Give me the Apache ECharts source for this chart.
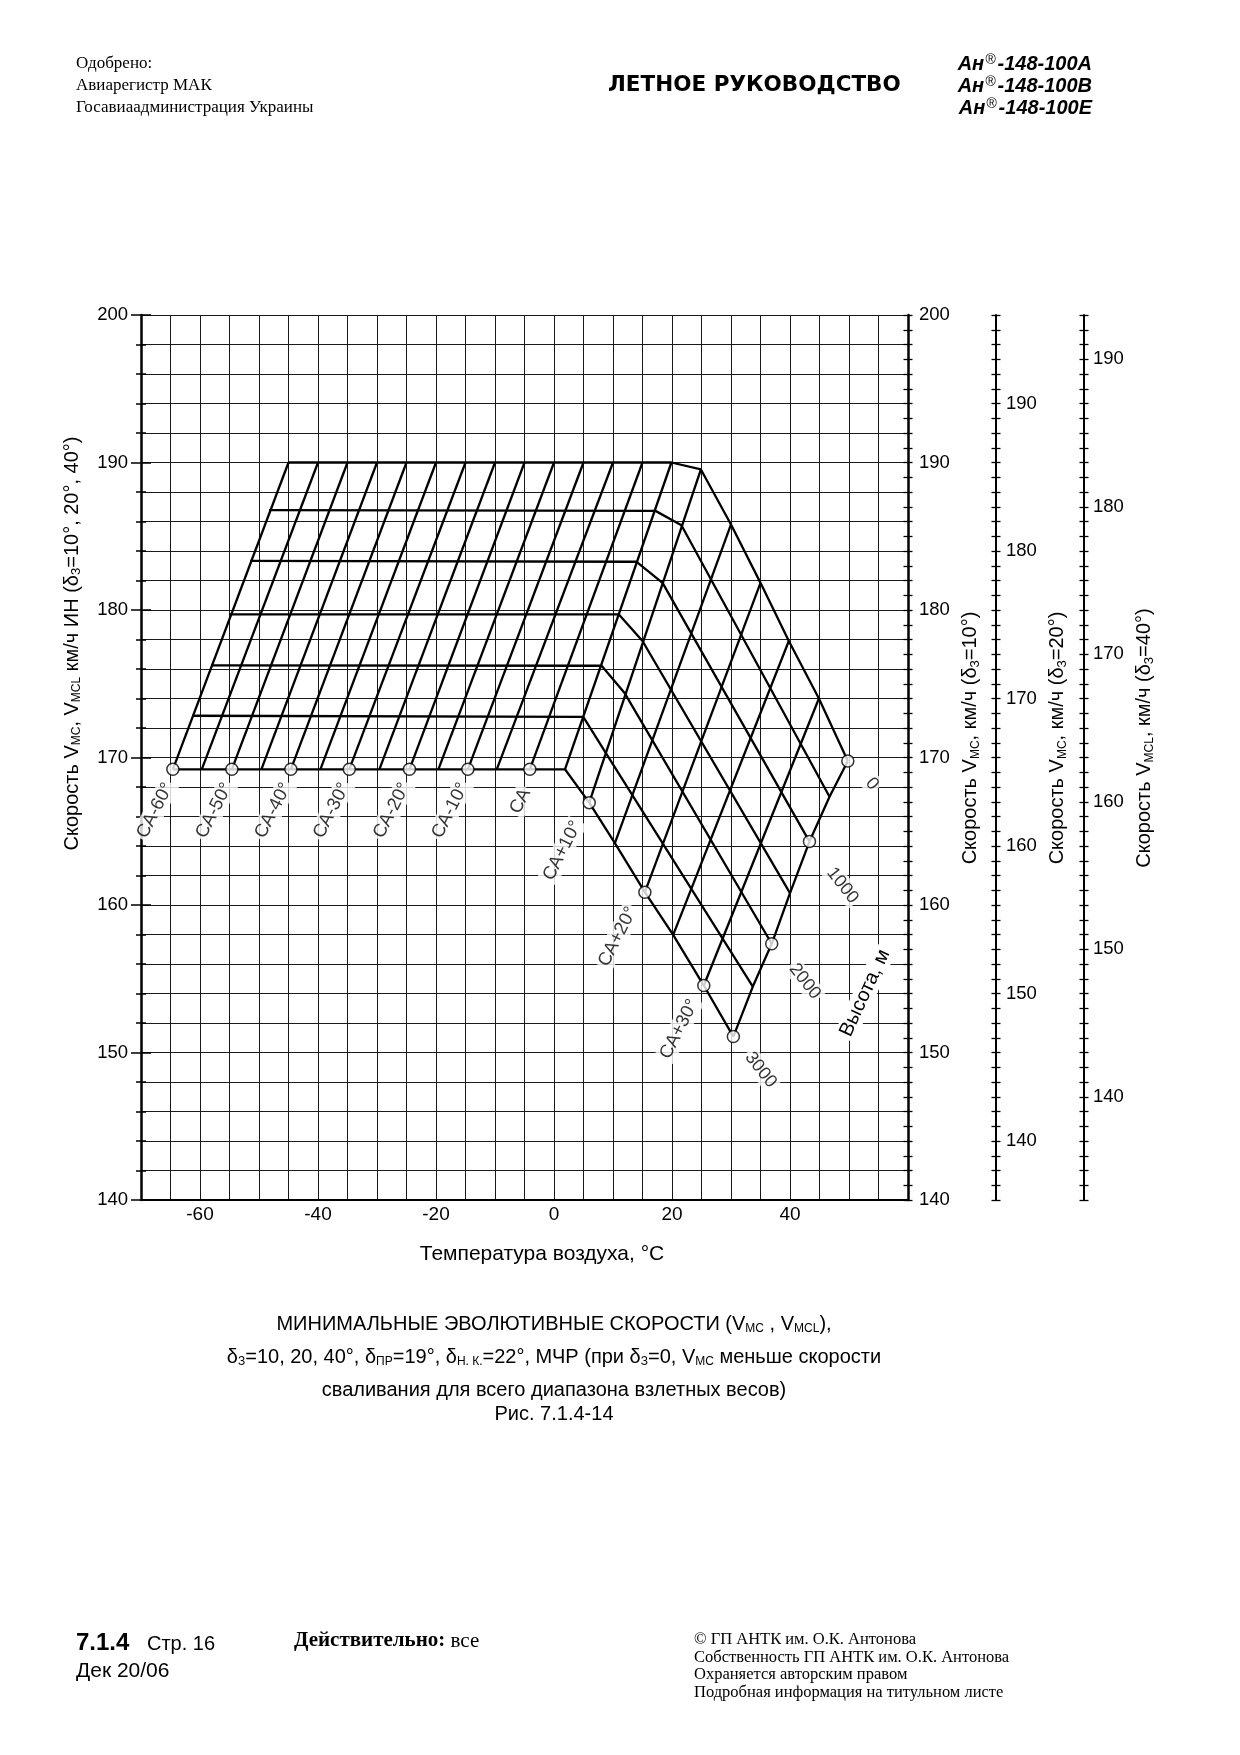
<!DOCTYPE html>
<html><head><meta charset="utf-8">
<script src="https://cdn.jsdelivr.net/npm/echarts@6/dist/echarts.min.js"></script>
<style>html,body{margin:0;padding:0;background:#fff}#c{width:1240px;height:1755px}</style>
</head><body><div id="c"></div>
<script>
// ---------------- DATA ----------------
// Altitude lines (speed vs temperature), one array per altitude, metres
const ALTITUDE_M = [0, 500, 1000, 1500, 2000, 2500, 3000];
const ALT_0    = [[-45,190],[19.9,190],[24.9,189.53],[30,185.8],[35,181.84],[39.8,177.9],[44.9,174.0],[49.8,169.76]];
const ALT_500  = [[-48.3,186.77],[17.2,186.72],[21.6,185.75],[46.7,167.34]];
const ALT_1000 = [[-51.5,183.33],[14.0,183.27],[18.4,181.84],[43.3,164.3]];
const ALT_1500 = [[-54.9,179.7],[11.0,179.7],[15.0,177.9],[40.0,160.8]];
const ALT_2000 = [[-58.1,176.25],[8.07,176.22],[12.0,174.35],[36.9,157.37]];
const ALT_2500 = [[-61.3,172.83],[4.96,172.75],[8.8,170.3],[33.7,154.47]];
const ALT_3000 = [[-64.6,169.2],[1.86,169.2],[5.97,166.94],[10.32,164.19],[15.4,160.87],[20.2,157.97],[25.39,154.54],[30.4,151.08]];

// ISA-deviation lines (СА ±), from 3000 m point to 0 m point
const CA_DEV    = [-60,-55,-50,-45,-40,-35,-30,-25,-20,-15,-10,-5,0,5,10,15,20,25,30];
const CA_T_3000 = [-64.6,-59.7,-54.6,-49.6,-44.6,-39.6,-34.7,-29.6,-24.5,-19.6,-14.6,-9.7,-4.1,1.86,5.97,10.32,15.4,20.2,25.39];
const CA_V_3000 = [169.2,169.2,169.2,169.2,169.2,169.2,169.2,169.2,169.2,169.2,169.2,169.2,169.2,169.2,166.94,164.19,160.87,157.97,154.54];
const CA_T_0    = [-45,-40,-35,-30,-25,-20,-15,-10,-5,0,5,10,15,19.9,24.9,30,35,39.8,44.9];
const CA_V_0    = [190,190,190,190,190,190,190,190,190,190,190,190,190,190,189.53,185.8,181.84,177.9,174.0];
// СА+35 edge (3000 m -> 0 m)
const CA_35 = [[30.4,151.08],[33.7,154.47],[36.9,157.37],[40.0,160.8],[43.3,164.3],[46.7,167.34],[49.8,169.76]];

// Marked points
const SA_MARK_NAMES = ['СА-60°','СА-50°','СА-40°','СА-30°','СА-20°','СА-10°','СА','СА+10°','СА+20°','СА+30°'];
const SA_MARK_T = [-64.6,-54.6,-44.6,-34.7,-24.5,-14.6,-4.1,5.97,15.4,25.39];
const SA_MARK_V = [169.2,169.2,169.2,169.2,169.2,169.2,169.2,166.94,160.87,154.54];
const H_MARK_NAMES = ['0','1000','2000','3000'];
const H_MARK_T = [49.8,43.3,36.9,30.4];
const H_MARK_V = [169.76,164.3,157.37,151.08];

// Tick labels
const X_TICKS  = [-60,-40,-20,0,20,40];
const Y_TICKS  = [140,150,160,170,180,190,200];
const Y2_TICKS = [140,150,160,170,180,190];
const Y3_TICKS = [140,150,160,170,180,190];

// ---------------- STYLE ----------------
const NARROW = '"Liberation Sans Narrow","Arial Narrow","Liberation Sans",sans-serif';
const SANS = '"Liberation Sans",Arial,sans-serif';
const SERIF = '"Liberation Serif","Times New Roman",serif';
const LINE = {color:'#000', width:2.3};
const GRIDLINE = {color:'#1a1a1a', width:1};

const SA_LABEL_STYLE = [[-13,3],[-13,3],[-13,3],[-13,3],[-13,3],[-13,3],[-18,6],[-21,-2],[-18,-4],[-16,-2]];
const H_LABEL_STYLE  = [[26,-5],[33,1],[28,-3],[21,-1]];

const sub = {fontSize:12, fontFamily:NARROW, padding:[10,0,0,0], color:'#000'};
const nameStyle = (pad) => ({fontSize:20, fontFamily:NARROW, color:'#000', padding:pad, rich:{s:sub}});

const series = [];
const ALT_LINES = [ALT_0, ALT_500, ALT_1000, ALT_1500, ALT_2000, ALT_2500, ALT_3000];
ALT_LINES.forEach((d,i)=>series.push({type:'line', name:'H'+ALTITUDE_M[i], data:d, symbol:'none', lineStyle:LINE, silent:true, z:3}));
CA_DEV.forEach((dev,i)=>series.push({type:'line', name:'CA'+dev, data:[[CA_T_3000[i],CA_V_3000[i]],[CA_T_0[i],CA_V_0[i]]], symbol:'none', lineStyle:LINE, silent:true, z:3}));
series.push({type:'line', name:'CA35', data:CA_35, symbol:'none', lineStyle:LINE, silent:true, z:3});

series.push({
  type:'scatter', z:5, symbol:'circle', symbolSize:12,
  itemStyle:{color:'#fff', borderColor:'#000', borderWidth:1.5},
  data: SA_MARK_NAMES.map((n,i)=>({name:n, value:[SA_MARK_T[i],SA_MARK_V[i]], label:{offset:SA_LABEL_STYLE[i]}})),
  label:{show:true, formatter:'{b}', position:'inside', align:'right', verticalAlign:'middle', rotate:63,
    fontSize:18.5, fontFamily:SANS, color:'#000', backgroundColor:'#fff', padding:[1,2]}
});
series.push({
  type:'scatter', z:5, symbol:'circle', symbolSize:12,
  itemStyle:{color:'#fff', borderColor:'#000', borderWidth:1.5},
  data: H_MARK_NAMES.map((n,i)=>({name:n, value:[H_MARK_T[i],H_MARK_V[i]], label:{offset:H_LABEL_STYLE[i]}})),
  label:{show:true, formatter:'{b}', position:'inside', align:'left', verticalAlign:'middle', rotate:-52,
    fontSize:18, fontFamily:SANS, color:'#000', backgroundColor:'#fff', padding:[1,2]}
});

function yAx(o){ return Object.assign({type:'value', gridIndex:0, splitLine:{show:false}}, o); }

const yAxes = [
  yAx({position:'left', min:140, max:200, interval:10,
    axisLine:{show:true, onZero:false, lineStyle:{color:'#000', width:2.5}},
    axisTick:{show:true, length:10, lineStyle:{color:'#000', width:1.5}},
    minorTick:{show:true, splitNumber:5, length:5, lineStyle:{color:'#000', width:1.5}},
    splitLine:{show:true, lineStyle:GRIDLINE},
    minorSplitLine:{show:true, lineStyle:GRIDLINE},
    axisLabel:{margin:13, fontSize:18.5, fontFamily:SANS, color:'#000', customValues:Y_TICKS},
    name:'Скорость V{s|MC}, V{s|MCL} км/ч ИН (δ{s|З}=10°, 20°, 40°)', nameLocation:'middle', nameRotate:90, nameGap:58,
    nameTextStyle:nameStyle([0,0,0,228])}),
  yAx({position:'left', min:140, max:200, interval:10,
    axisLine:{show:false, onZero:false}, axisLabel:{show:false},
    axisTick:{show:true, inside:true, length:10, lineStyle:{color:'#000', width:1.5}},
    minorTick:{show:true, splitNumber:5, length:5, lineStyle:{color:'#000', width:1.5}}}),
  yAx({position:'right', min:140, max:200, interval:1,
    axisLine:{show:true, onZero:false, lineStyle:{color:'#000', width:2.5}},
    axisTick:{show:true, length:4.5, lineStyle:{color:'#000', width:1.3}},
    axisLabel:{margin:11, fontSize:18.5, fontFamily:SANS, color:'#000', customValues:Y_TICKS},
    name:'Скорость V{s|MC}, км/ч (δ{s|З}=10°)', nameLocation:'middle', nameRotate:90, nameGap:36,
    nameTextStyle:nameStyle([0,0,0,39])}),
  yAx({position:'right', min:140, max:200, interval:1,
    axisLine:{show:false, onZero:false}, axisLabel:{show:false},
    axisTick:{show:true, inside:true, length:4.5, lineStyle:{color:'#000', width:1.3}}}),
  yAx({position:'right', offset:88, min:136, max:196, interval:1,
    axisLine:{show:true, onZero:false, lineStyle:{color:'#000', width:2}},
    axisTick:{show:true, length:4.5, lineStyle:{color:'#000', width:1.3}},
    axisLabel:{margin:10, fontSize:18.5, fontFamily:SANS, color:'#000', customValues:Y2_TICKS},
    name:'Скорость V{s|MC}, км/ч (δ{s|З}=20°)', nameLocation:'middle', nameRotate:90, nameGap:39,
    nameTextStyle:nameStyle([0,0,0,39])}),
  yAx({position:'right', offset:88, min:136, max:196, interval:1,
    axisLine:{show:false, onZero:false}, axisLabel:{show:false},
    axisTick:{show:true, inside:true, length:4.5, lineStyle:{color:'#000', width:1.3}}}),
  yAx({position:'right', offset:176, min:133, max:193, interval:1,
    axisLine:{show:true, onZero:false, lineStyle:{color:'#000', width:2}},
    axisTick:{show:true, length:4.5, lineStyle:{color:'#000', width:1.3}},
    axisLabel:{margin:9, fontSize:18.5, fontFamily:SANS, color:'#000', customValues:Y3_TICKS},
    name:'Скорость V{s|MCL}, км/ч (δ{s|З}=40°)', nameLocation:'middle', nameRotate:90, nameGap:40,
    nameTextStyle:nameStyle([0,0,0,39])}),
  yAx({position:'right', offset:176, min:133, max:193, interval:1,
    axisLine:{show:false, onZero:false}, axisLabel:{show:false},
    axisTick:{show:true, inside:true, length:4.5, lineStyle:{color:'#000', width:1.3}}})
];

function txt(x,y,text,font,align,extra){
  return {type:'text', x:x, y:y, z:100, style:Object.assign({text:text, font:font, fill:'#000',
    align:align||'left', textAlign:align||'left', verticalAlign:'middle', textVerticalAlign:'middle'}, extra||{})};
}
const capRich = {s:{fontSize:12, fontFamily:NARROW, padding:[10,0,0,0], fill:'#000'}};
const regRich = {r:{fontSize:14, fontFamily:SANS, fontStyle:'italic', padding:[0,2,8,1]}};
const graphics = [
  txt(76,64,'Одобрено:','17px '+SERIF),
  txt(76,86,'Авиарегистр МАК','17px '+SERIF),
  txt(76,108,'Госавиаадминистрация Украины','17px '+SERIF),
  txt(608,85,'ЛЕТНОЕ РУКОВОДСТВО','bold 21.5px "DejaVu Sans",'+SANS),
  txt(1092,64,'Ан{r|®}-148-100А','italic bold 20px '+SANS,'right',{fontSize:20,fontWeight:'bold',fontStyle:'italic',fontFamily:SANS,rich:regRich}),
  txt(1092,86,'Ан{r|®}-148-100В','italic bold 20px '+SANS,'right',{fontSize:20,fontWeight:'bold',fontStyle:'italic',fontFamily:SANS,rich:regRich}),
  txt(1092,108,'Ан{r|®}-148-100Е','italic bold 20px '+SANS,'right',{fontSize:20,fontWeight:'bold',fontStyle:'italic',fontFamily:SANS,rich:regRich}),
  txt(554,1324,'МИНИМАЛЬНЫЕ ЭВОЛЮТИВНЫЕ СКОРОСТИ (V{s|MC} , V{s|MCL}),','20px '+NARROW,'center',{fontSize:20,fontFamily:NARROW,rich:capRich}),
  txt(554,1357,'δ{s|З}=10, 20, 40°, δ{s|ПР}=19°, δ{s|Н. К.}=22°, МЧР (при δ{s|З}=0, V{s|MC} меньше скорости','20px '+NARROW,'center',{fontSize:20,fontFamily:NARROW,rich:capRich}),
  txt(554,1390,'сваливания для всего диапазона взлетных весов)','20px '+NARROW,'center'),
  txt(554,1414,'Рис. 7.1.4-14','20px '+NARROW,'center'),
  txt(865,993,'Высота, м','20px '+SANS,'center',{backgroundColor:'#fff', padding:[1,3]}),
  txt(76,1643,'7.1.4','bold 24px '+SANS),
  txt(147,1644,'Стр. 16','20px '+NARROW),
  txt(76,1671,'Дек 20/06','21px '+NARROW),
  txt(294,1641,'{b|Действительно:} все','21px '+SERIF,'left',{fontSize:21,fontFamily:SERIF,rich:{b:{fontWeight:'bold',fontSize:21,fontFamily:SERIF}}}),
  txt(694,1640,'© ГП АНТК им. О.К. Антонова','16.5px '+SERIF),
  txt(694,1658,'Собственность ГП АНТК им. О.К. Антонова','16.5px '+SERIF),
  txt(694,1675,'Охраняется авторским правом','16.5px '+SERIF),
  txt(694,1693,'Подробная информация на титульном листе','16.5px '+SERIF)
];
graphics[11].rotation = 65*Math.PI/180;

const chart = echarts.init(document.getElementById('c'), null, {renderer:'canvas'});
chart.setOption({
  animation:false,
  backgroundColor:'#fff',
  grid:{left:141, right:332, top:315, bottom:555, containLabel:false},
  xAxis:{type:'value', min:-70, max:60, interval:5,
    axisLine:{show:true, onZero:false, lineStyle:{color:'#000', width:2}},
    axisTick:{show:false},
    splitLine:{show:true, lineStyle:GRIDLINE},
    axisLabel:{margin:5, fontSize:19, fontFamily:NARROW, color:'#000', customValues:X_TICKS},
    name:'Температура воздуха, °C', nameLocation:'middle', nameGap:44,
    nameTextStyle:{fontSize:21, fontFamily:NARROW, color:'#000', padding:[0,0,0,35]}},
  yAxis:yAxes,
  series:series,
  graphic:{elements:graphics}
});
</script></body></html>
